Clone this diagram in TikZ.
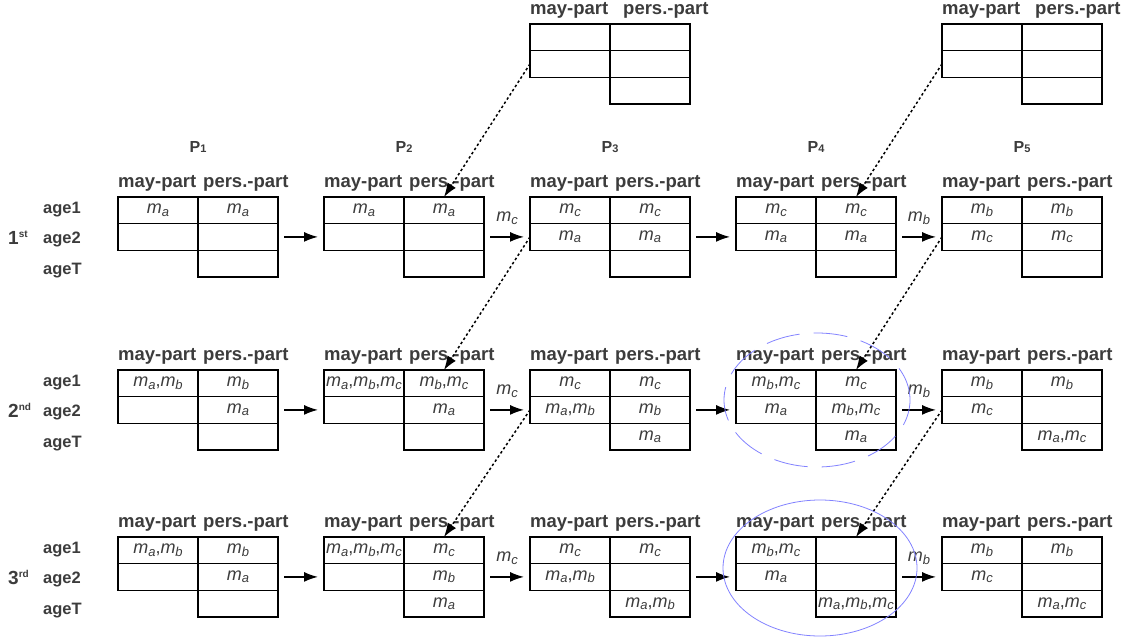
\documentclass[tikz,border=0pt]{standalone}
\usepackage{fontspec}
\setmainfont{Liberation Sans}
\usepackage{tikz}
\usetikzlibrary{arrows.meta,positioning}
\definecolor{txt}{RGB}{60,60,60}
\definecolor{ring}{RGB}{130,130,255}
\tikzstyle{cell}=[draw=black,line width=1.4pt,minimum width=80pt,minimum height=26.6pt,inner sep=0pt,outer sep=0pt,text=txt,font=\fontsize{18}{20}\selectfont]
\tikzstyle{head}=[anchor=base west,inner sep=0pt,text=txt,font=\fontsize{18.5}{20}\selectfont\bfseries]
\tikzstyle{plab}=[anchor=base,inner sep=0pt,text=txt,font=\fontsize{16}{17}\selectfont\bfseries]
\tikzstyle{age}=[anchor=base west,inner sep=0pt,text=txt,font=\fontsize{16.5}{18}\selectfont\bfseries]
\tikzstyle{mlab}=[anchor=base,yshift=15pt,inner sep=0pt,text=txt,font=\fontsize{18}{20}\selectfont]
\tikzstyle{arr}=[-{Latex[length=14pt,width=10pt]},draw=black,line width=1.5pt]
\tikzstyle{darr}=[arr,dash pattern=on 2.5pt off 2.5pt]
\tikzstyle{ringline}=[draw=ring,line width=0.8pt]
% m with a small index
\newcommand{\mv}[1]{\textit{m}\raisebox{-2.5pt}{\fontsize{13}{13}\selectfont\textit{#1}}}
% table of one period: [gap of 2nd head] name, top left, may1, pers1, may2, pers2, persT
\newcommand{\agetab}[8][85]{%
  \node[cell,anchor=north west] (#2m1) at (#3) {#4};
  \node[cell,right=0pt of #2m1] (#2p1) {#5};
  \node[cell,below=0pt of #2m1] (#2m2) {#6};
  \node[cell,below=0pt of #2p1] (#2p2) {#7};
  \node[cell,below=0pt of #2p2] (#2p3) {#8};
  \node[head] (#2hm) at ([yshift=10pt]#2m1.north west) {may-part};
  \node[head] (#2hp) at ([xshift=#1pt,yshift=10pt]#2m1.north west) {pers.-part};
}

\begin{document}
\begin{tikzpicture}[x=1pt,y=-1pt]
\useasboundingbox (0,0) rectangle (1134,640);
  %Nodes
  \agetab[93]{T3}{530,24}{}{}{}{}{}
  \agetab[93]{T5}{942,24}{}{}{}{}{}

  \agetab{AP1}{118,197}{\mv{a}}{\mv{a}}{}{}{}
  \agetab{AP2}{324,197}{\mv{a}}{\mv{a}}{}{}{}
  \agetab{AP3}{530,197}{\mv{c}}{\mv{c}}{\mv{a}}{\mv{a}}{}
  \agetab{AP4}{736,197}{\mv{c}}{\mv{c}}{\mv{a}}{\mv{a}}{}
  \agetab{AP5}{942,197}{\mv{b}}{\mv{b}}{\mv{c}}{\mv{c}}{}

  \agetab{BP1}{118,370}{\mv{a},\mv{b}}{\mv{b}}{}{\mv{a}}{}
  \agetab{BP2}{324,370}{\mv{a},\mv{b},\mv{c}}{\mv{b},\mv{c}}{}{\mv{a}}{}
  \agetab{BP3}{530,370}{\mv{c}}{\mv{c}}{\mv{a},\mv{b}}{\mv{b}}{\mv{a}}
  \agetab{BP4}{736,370}{\mv{b},\mv{c}}{\mv{c}}{\mv{a}}{\mv{b},\mv{c}}{\mv{a}}
  \agetab{BP5}{942,370}{\mv{b}}{\mv{b}}{\mv{c}}{}{\mv{a},\mv{c}}

  \agetab{CP1}{118,537}{\mv{a},\mv{b}}{\mv{b}}{}{\mv{a}}{}
  \agetab{CP2}{324,537}{\mv{a},\mv{b},\mv{c}}{\mv{c}}{}{\mv{b}}{\mv{a}}
  \agetab{CP3}{530,537}{\mv{c}}{\mv{c}}{\mv{a},\mv{b}}{}{\mv{a},\mv{b}}
  \agetab{CP4}{736,537}{\mv{b},\mv{c}}{}{\mv{a}}{}{\mv{a},\mv{b},\mv{c}}
  \agetab{CP5}{942,537}{\mv{b}}{\mv{b}}{\mv{c}}{}{\mv{a},\mv{c}}

  \foreach \i in {1,...,5}
    \node[plab] (P\i) at ([yshift=45pt]AP\i m1.north east) {P{\fontsize{11}{11}\selectfont\i}};

  \node[age] (A1) at (43,213) {age1};
  \node[age] (A2) at (43,243) {age2};
  \node[age] (AT) at (43,274) {ageT};
  \node[age] (B1) at (43,386) {age1};
  \node[age] (B2) at (43,416) {age2};
  \node[age] (BT) at (43,447) {ageT};
  \node[age] (C1) at (43,553) {age1};
  \node[age] (C2) at (43,583) {age2};
  \node[age] (CT) at (43,614) {ageT};
  \node[age,font=\fontsize{19}{20}\selectfont\bfseries] (Aord) at (8,244) {1\raisebox{7pt}{\fontsize{10}{10}\selectfont st}};
  \node[age,font=\fontsize{19}{20}\selectfont\bfseries] (Bord) at (8,417) {2\raisebox{7pt}{\fontsize{10}{10}\selectfont nd}};
  \node[age,font=\fontsize{19}{20}\selectfont\bfseries] (Cord) at (8,584) {3\raisebox{7pt}{\fontsize{10}{10}\selectfont rd}};

  %Lines
  \foreach \row in {A,B,C}{
    \draw[arr] ([xshift=6pt]\row P1p2.east) -- ([xshift=-6pt]\row P2m2.west);
    \draw[arr] ([xshift=6pt]\row P2p2.east) -- node[mlab] (\row mc) {\mv{c}} ([xshift=-6pt]\row P3m2.west);
    \draw[arr] ([xshift=6pt]\row P3p2.east) -- ([xshift=-6pt]\row P4m2.west);
    \draw[arr] ([xshift=6pt]\row P4p2.east) -- node[mlab] (\row mb) {\mv{b}} ([xshift=-6pt]\row P5m2.west);
  }
  \draw[darr] (T3m2.west) -- (AP2p1.north);
  \draw[darr] (AP3m2.west) -- (BP2p1.north);
  \draw[darr] (BP3m2.west) -- (CP2p1.north);
  \draw[darr] (T5m2.west) -- (AP4p1.north);
  \draw[darr] (AP5m2.west) -- (BP4p1.north);
  \draw[darr] (BP5m2.west) -- (CP4p1.north);

  \draw[ringline,dash pattern=on 34pt off 14pt] (817,400) ellipse [x radius=93pt,y radius=67pt];
  \draw[ringline] (820,568) ellipse [x radius=97pt,y radius=68pt];
\end{tikzpicture}
\end{document}
